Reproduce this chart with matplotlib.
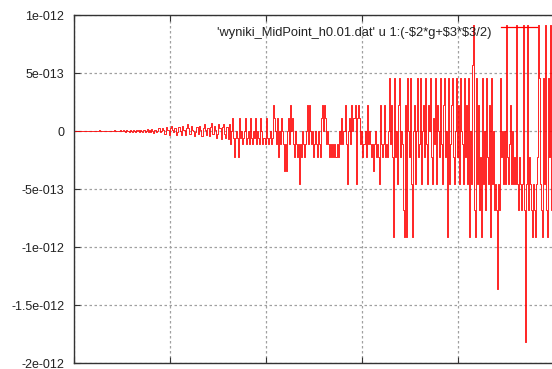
import numpy as np
import matplotlib
matplotlib.use("Agg")
import matplotlib.pyplot as plt

# ---- data (energy error, in units of one float ulp ~1.137e-13) ----
ULP = 1.137e-13
err_ulps = [
    0, 0, 0, 0, 0, 0, 0, 0, 0, 0, 0, 0, 0, 0, 0, 0, 0, 0, 0, 0,
    0, 0, 0, 0, 0, 0.05, 0, 0, 0, 0, 0, 0, 0, 0, 0, 0, 0, 0, 0, 0,
    0.08, 0, 0, 0, 0, 0, 0.05, -0.03, 0, 0.06, 0, -0.04, 0.05, 0, 0.03, -0.05, 0.1, 0, -0.04, 0.06,
    0, -0.06, 0.08, 0, 0.1, -0.05, 0.05, 0, -0.08, 0.1, 0.05, -0.1, 0, 0.12, -0.06, 0.08, -0.1, 0.15, 0, -0.12,
    0.1, 0.1, -0.1, 0, 0.2, 0.2, -0.1, 0, 0.25, 0.1, -0.2, -0.2, 0.3, 0.1, 0.1, -0.3, 0.2, 0.4, 0.1, -0.1,
    0.2, 0.2, -0.3, -0.1, 0.3, 0.3, 0, -0.3, 0.4, 0.1, 0.1, -0.3, 0.2, 0.5, 0.2, -0.2, -0.2, 0.4, 0.1, 0,
    -0.4, -0.1, 0.3, 0.3, -0.2, 0.4, 0.1, -0.4, -0.4, 0.2, 0.5, 0.1, -0.3, 0.2, 0.2, -0.4, 0.3, 0.6, -0.2, -0.2,
    0.4, 0.1, -0.5, -0.2, 0.5, 0.2, 0.2, -0.6, 0.3, 0.5, -0.2, -0.5, 0.3, 0.3, -0.6, 0.5, -1, 0, 1, -0.5,
    -2, -0.5, 0, -0.5, -2, 1, -0.5, 0, -1, -0.5, 0, 1, -1, -0.5, 0, -1, 1, -0.5, -1, 0,
    -0.5, 1, -1, 0, -0.5, -1, 1, 0, -1, -0.5, -0.5, -1, 1, -0.5, -1, -0.5, 0, -1, -0.5, 2,
    1, 0, -1, 1, -2, 0, -1, 1, 0, -1, -3, -1, -3, 0, 1, -1, 2, 0, 1, -1,
    -2, 0, -1, -2, -1, -4, -1, -2, 0, -1, -2, -1, 0, 2, -1, 2, 0, -1, 0, -2,
    -1, 0, -1, -2, 0, -1, -2, 1, 2, 0, 2, 1, -1, 0, -1, -2, -1, -2, -1, -2,
    -1, -2, -2, -1, -2, 0, -1, 1, -1, 0, 0, 2, -1, -4, 0, 1, -1, 2, 0, 1,
    1, 2, -4, 1, 2, 1, -1, 0, -2, -1, -1, 0, -2, 2, -1, 0, -1, -2, -1, -3,
    -1, 0, -2, -1, -2, -4, 2, -1, -2, -1, 2, -2, -1, -2, 0, 4, -1, 2, -2, -8,
    4, -2, 0, -4, 2, 4, -2, 0, -1, -6, -8, 2, -8, 4, 0, -2, 4, -4, -8, 0,
    2, -4, 0, 4, -2, -1, 4, -4, 0, 2, -2, 4, -1, -4, 2, 0, 4, -2, -4, 1,
    -1, 4, -4, 2, 0, -2, 4, -1, -4, 2, 4, -2, 0, -8, 4, -4, -1, 2, 4, -2,
    -4, 0, 4, -2, 2, -4, 4, 0, -1, -4, 4, -2, 2, -4, 4, -8, 0, -4, 5, 8,
    -6, -8, 4, -4, 2, -6, -2, -8, 4, -4, 0, -6, 4, -2, -4, 2, -8, 4, -4, 0,
    -6, -4, -6, -12, -4, -6, 4, -2, 0, -4, 0, -4, 8, -2, -4, -1, 2, -4, 0, -4,
    -2, -4, 8, -4, -6, -2, -4, -6, -4, 8, -6, -16, -4, 8, -6, -2, -4, -6, -8, -4,
    -6, -8, -4, -2, 8, 4, -4, -6, -8, 4, -4, 8, -6, -8, 4, -2, 8, -6, -4, 4,
]
t_start, t_end = 0.0, 4.99
label = r"'wyniki_MidPoint_h0.01.dat' u 1:(-\$2*g+\$3*\$3/2)"
ytick_vals = [-2e-12, -1.5e-12, -1e-12, -5e-13, 0, 5e-13, 1e-12]
ytick_labels = ["-2e-012", "-1.5e-012", "-1e-012", "-5e-013", "0", "5e-013", "1e-012"]
xtick_vals = [0, 1, 2, 3, 4, 5]

plt.rcParams['font.family'] = ['Liberation Sans', 'DejaVu Sans']

W, H = 552, 369
fig = plt.figure(figsize=(W / 100, H / 100), dpi=100)
left, right, top, bottom = 74, 554, 15, 363
ax = fig.add_axes([left / W, 1 - bottom / H, (right - left) / W, (bottom - top) / H])

err = np.array(err_ulps) * ULP
t = np.linspace(t_start, t_end, len(err))
ax.plot(t, err, color='#ff0000', lw=0.6, label=label, drawstyle='steps-mid')

ax.set_xlim(0, 5)
ax.set_ylim(-2e-12, 1e-12)
ax.set_yticks(ytick_vals)
ax.set_yticklabels(ytick_labels)
ax.set_xticks(xtick_vals)
ax.set_xticklabels([])
ax.grid(True, color='#a0a0a0', linestyle=(0, (2, 2)), linewidth=0.9)
ax.set_axisbelow(True)
for s in ['left', 'bottom', 'top']:
    ax.spines[s].set_color('#333333')
    ax.spines[s].set_linewidth(1.0)
ax.spines['right'].set_visible(False)
ax.tick_params(axis='both', direction='in', length=4, width=0.8, color='#333333',
               labelsize=9, labelcolor='#222222', top=True, pad=7)

leg = ax.legend(loc='upper right', bbox_to_anchor=(537 / W, 1 - 27 / H),
                bbox_transform=fig.transFigure, frameon=False, markerfirst=False,
                prop={'size': 9.3}, handlelength=2.75, handletextpad=0.75, borderpad=0,
                borderaxespad=0)
for txt in leg.get_texts():
    txt.set_color('#222222')
# gnuplot draws the key sample slightly above the text centre
hl = leg.legend_handles[0]
hl.set_ydata(np.asarray(hl.get_ydata()) + 3.5)
hl.set_linewidth(0.9)

fig.savefig('out.png', dpi=100)
